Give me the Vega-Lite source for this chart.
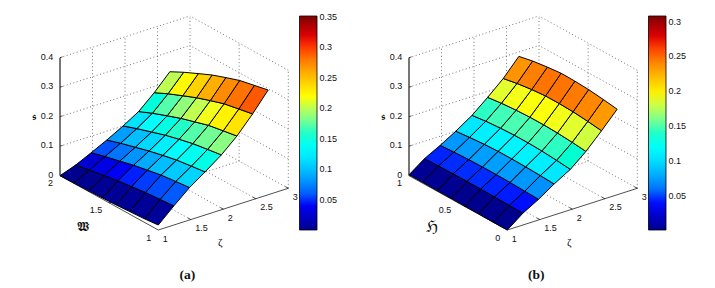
{
"$schema":"https://vega.github.io/schema/vega-lite/v6.json",
"width":715,"height":288,"padding":0,"autosize":{"type":"none"},
"background":"white",
"view":{"stroke":null},
"datasets":{
"grid":[
{"p":["a","b"],"k":"g","z1":1,"v1":1,"s1":0.1,"z2":3,"v2":1,"s2":0.1},
{"p":["a","b"],"k":"g","z1":1,"v1":1,"s1":0.2,"z2":3,"v2":1,"s2":0.2},
{"p":["a","b"],"k":"g","z1":1,"v1":1,"s1":0.3,"z2":3,"v2":1,"s2":0.3},
{"p":["a","b"],"k":"g","z1":1,"v1":1,"s1":0.4,"z2":3,"v2":1,"s2":0.4},
{"p":["a","b"],"k":"g","z1":1,"v1":1,"s1":0,"z2":3,"v2":1,"s2":0},
{"p":["a","b"],"k":"g","z1":1.5,"v1":1,"s1":0,"z2":1.5,"v2":1,"s2":0.4},
{"p":["a","b"],"k":"g","z1":2,"v1":1,"s1":0,"z2":2,"v2":1,"s2":0.4},
{"p":["a","b"],"k":"g","z1":2.5,"v1":1,"s1":0,"z2":2.5,"v2":1,"s2":0.4},
{"p":["a","b"],"k":"g","z1":3,"v1":1,"s1":0,"z2":3,"v2":1,"s2":0.4},
{"p":["a","b"],"k":"g","z1":3,"v1":0,"s1":0.1,"z2":3,"v2":1,"s2":0.1},
{"p":["a","b"],"k":"g","z1":3,"v1":0,"s1":0.2,"z2":3,"v2":1,"s2":0.2},
{"p":["a","b"],"k":"g","z1":3,"v1":0,"s1":0.3,"z2":3,"v2":1,"s2":0.3},
{"p":["a","b"],"k":"g","z1":3,"v1":0,"s1":0.4,"z2":3,"v2":1,"s2":0.4},
{"p":["a","b"],"k":"g","z1":3,"v1":0,"s1":0,"z2":3,"v2":1,"s2":0},
{"p":["a","b"],"k":"g","z1":3,"v1":0.5,"s1":0,"z2":3,"v2":0.5,"s2":0.4},
{"p":["a","b"],"k":"g","z1":3,"v1":0,"s1":0,"z2":3,"v2":0,"s2":0.4},
{"p":["a","b"],"k":"g","z1":1.5,"v1":0,"s1":0,"z2":1.5,"v2":1,"s2":0},
{"p":["a","b"],"k":"g","z1":2,"v1":0,"s1":0,"z2":2,"v2":1,"s2":0},
{"p":["a","b"],"k":"g","z1":2.5,"v1":0,"s1":0,"z2":2.5,"v2":1,"s2":0},
{"p":["a","b"],"k":"g","z1":1,"v1":0.5,"s1":0,"z2":3,"v2":0.5,"s2":0},
{"p":["a","b"],"k":"x","z1":1,"v1":0,"s1":0,"z2":3,"v2":0,"s2":0},
{"p":["a","b"],"k":"x","z1":1,"v1":0,"s1":0,"z2":1,"v2":1,"s2":0},
{"p":["a","b"],"k":"x","z1":1.5,"v1":0,"s1":0,"z2":1.5,"v2":0.03,"s2":0},
{"p":["a","b"],"k":"x","z1":2,"v1":0,"s1":0,"z2":2,"v2":0.03,"s2":0},
{"p":["a","b"],"k":"x","z1":2.5,"v1":0,"s1":0,"z2":2.5,"v2":0.03,"s2":0},
{"p":["a","b"],"k":"x","z1":3,"v1":0,"s1":0,"z2":3,"v2":0.03,"s2":0},
{"p":["a","b"],"k":"x","z1":1,"v1":0.5,"s1":0,"z2":1.05,"v2":0.5,"s2":0},
{"p":["a","b"],"k":"s","z1":1,"v1":1,"s1":0,"z2":1,"v2":1,"s2":0.4},
{"p":["a","b"],"k":"x","z1":1,"v1":1,"s1":0.1,"z2":1.04,"v2":1,"s2":0.1},
{"p":["a","b"],"k":"x","z1":1,"v1":1,"s1":0.2,"z2":1.04,"v2":1,"s2":0.2},
{"p":["a","b"],"k":"x","z1":1,"v1":1,"s1":0.3,"z2":1.04,"v2":1,"s2":0.3},
{"p":["a","b"],"k":"x","z1":1,"v1":1,"s1":0.4,"z2":1.04,"v2":1,"s2":0.4}
],
"labels":[
{"p":["a","b"],"t":"s","zeta":1,"v":1,"s":0,"label":"0"},
{"p":["a","b"],"t":"s","zeta":1,"v":1,"s":0.1,"label":"0.1"},
{"p":["a","b"],"t":"s","zeta":1,"v":1,"s":0.2,"label":"0.2"},
{"p":["a","b"],"t":"s","zeta":1,"v":1,"s":0.3,"label":"0.3"},
{"p":["a","b"],"t":"s","zeta":1,"v":1,"s":0.4,"label":"0.4"},
{"p":["a","b"],"t":"z","zeta":1,"v":0,"s":0,"label":"1"},
{"p":["a","b"],"t":"z","zeta":1.5,"v":0,"s":0,"label":"1.5"},
{"p":["a","b"],"t":"z","zeta":2,"v":0,"s":0,"label":"2"},
{"p":["a","b"],"t":"z","zeta":2.5,"v":0,"s":0,"label":"2.5"},
{"p":["a","b"],"t":"z","zeta":3,"v":0,"s":0,"label":"3"},
{"p":["a"],"t":"w","zeta":1,"v":0,"s":0,"label":"1"},
{"p":["a"],"t":"w","zeta":1,"v":0.5,"s":0,"label":"1.5"},
{"p":["a"],"t":"w","zeta":1,"v":1,"s":0,"label":"2"},
{"p":["b"],"t":"w","zeta":1,"v":0,"s":0,"label":"0"},
{"p":["b"],"t":"w","zeta":1,"v":0.5,"s":0,"label":"0.5"},
{"p":["b"],"t":"w","zeta":1,"v":1,"s":0,"label":"1"},
{"p":["a","b"],"t":"ts","zeta":1,"v":1,"s":0.2,"label":"𝖘"},
{"p":["a","b"],"t":"tz","zeta":2,"v":0,"s":0,"label":"ζ"},
{"p":["a"],"t":"tw","zeta":1,"v":0.5,"s":0,"label":"𝖂"},
{"p":["b"],"t":"tw","zeta":1,"v":0.5,"s":0,"label":"ℌ"},
{"p":["a"],"t":"cap","zeta":2,"v":0,"s":0,"label":"(a)"},
{"p":["b"],"t":"cap","zeta":2,"v":0,"s":0,"label":"(b)"}
],
"cells":[
{"id":"a00","zeta":[1,1.24,1.24,1],"w":[1,1,1.14,1.14],"s":[0.017,0.065,0.061,0.012],"c":0.006},
{"id":"a01","zeta":[1,1.24,1.24,1],"w":[1.14,1.14,1.29,1.29],"s":[0.012,0.061,0.057,0.009],"c":0.005},
{"id":"a02","zeta":[1,1.24,1.24,1],"w":[1.29,1.29,1.43,1.43],"s":[0.009,0.057,0.051,0.006],"c":0.004},
{"id":"a03","zeta":[1,1.24,1.24,1],"w":[1.43,1.43,1.57,1.57],"s":[0.006,0.051,0.045,0.004],"c":0.004},
{"id":"a04","zeta":[1,1.24,1.24,1],"w":[1.57,1.57,1.71,1.71],"s":[0.004,0.045,0.037,0.002],"c":0.003},
{"id":"a05","zeta":[1,1.24,1.24,1],"w":[1.71,1.71,1.86,1.86],"s":[0.002,0.037,0.028,0.001],"c":0.002},
{"id":"a06","zeta":[1,1.24,1.24,1],"w":[1.86,1.86,2,2],"s":[0.001,0.028,0.019,0],"c":0.001},
{"id":"a10","zeta":[1.24,1.48,1.48,1.24],"w":[1,1,1.14,1.14],"s":[0.065,0.11,0.105,0.061],"c":0.06},
{"id":"a11","zeta":[1.24,1.48,1.48,1.24],"w":[1.14,1.14,1.29,1.29],"s":[0.061,0.105,0.099,0.057],"c":0.056},
{"id":"a12","zeta":[1.24,1.48,1.48,1.24],"w":[1.29,1.29,1.43,1.43],"s":[0.057,0.099,0.09,0.051],"c":0.052},
{"id":"a13","zeta":[1.24,1.48,1.48,1.24],"w":[1.43,1.43,1.57,1.57],"s":[0.051,0.09,0.081,0.045],"c":0.047},
{"id":"a14","zeta":[1.24,1.48,1.48,1.24],"w":[1.57,1.57,1.71,1.71],"s":[0.045,0.081,0.069,0.037],"c":0.042},
{"id":"a15","zeta":[1.24,1.48,1.48,1.24],"w":[1.71,1.71,1.86,1.86],"s":[0.037,0.069,0.057,0.028],"c":0.035},
{"id":"a16","zeta":[1.24,1.48,1.48,1.24],"w":[1.86,1.86,2,2],"s":[0.028,0.057,0.044,0.019],"c":0.028},
{"id":"a20","zeta":[1.48,1.72,1.72,1.48],"w":[1,1,1.14,1.14],"s":[0.11,0.146,0.14,0.105],"c":0.11},
{"id":"a21","zeta":[1.48,1.72,1.72,1.48],"w":[1.14,1.14,1.29,1.29],"s":[0.105,0.14,0.133,0.099],"c":0.105},
{"id":"a22","zeta":[1.48,1.72,1.72,1.48],"w":[1.29,1.29,1.43,1.43],"s":[0.099,0.133,0.123,0.09],"c":0.099},
{"id":"a23","zeta":[1.48,1.72,1.72,1.48],"w":[1.43,1.43,1.57,1.57],"s":[0.09,0.123,0.112,0.081],"c":0.09},
{"id":"a24","zeta":[1.48,1.72,1.72,1.48],"w":[1.57,1.57,1.71,1.71],"s":[0.081,0.112,0.099,0.069],"c":0.081},
{"id":"a25","zeta":[1.48,1.72,1.72,1.48],"w":[1.71,1.71,1.86,1.86],"s":[0.069,0.099,0.085,0.057],"c":0.069},
{"id":"a26","zeta":[1.48,1.72,1.72,1.48],"w":[1.86,1.86,2,2],"s":[0.057,0.085,0.07,0.044],"c":0.057},
{"id":"a30","zeta":[1.72,1.97,1.97,1.72],"w":[1,1,1.14,1.14],"s":[0.146,0.186,0.179,0.14],"c":0.146},
{"id":"a31","zeta":[1.72,1.97,1.97,1.72],"w":[1.14,1.14,1.29,1.29],"s":[0.14,0.179,0.171,0.133],"c":0.14},
{"id":"a32","zeta":[1.72,1.97,1.97,1.72],"w":[1.29,1.29,1.43,1.43],"s":[0.133,0.171,0.16,0.123],"c":0.133},
{"id":"a33","zeta":[1.72,1.97,1.97,1.72],"w":[1.43,1.43,1.57,1.57],"s":[0.123,0.16,0.148,0.112],"c":0.123},
{"id":"a34","zeta":[1.72,1.97,1.97,1.72],"w":[1.57,1.57,1.71,1.71],"s":[0.112,0.148,0.133,0.099],"c":0.112},
{"id":"a35","zeta":[1.72,1.97,1.97,1.72],"w":[1.71,1.71,1.86,1.86],"s":[0.099,0.133,0.117,0.085],"c":0.099},
{"id":"a36","zeta":[1.72,1.97,1.97,1.72],"w":[1.86,1.86,2,2],"s":[0.085,0.117,0.1,0.07],"c":0.085},
{"id":"a40","zeta":[1.97,2.21,2.21,1.97],"w":[1,1,1.14,1.14],"s":[0.186,0.233,0.225,0.179],"c":0.186},
{"id":"a41","zeta":[1.97,2.21,2.21,1.97],"w":[1.14,1.14,1.29,1.29],"s":[0.179,0.225,0.216,0.171],"c":0.179},
{"id":"a42","zeta":[1.97,2.21,2.21,1.97],"w":[1.29,1.29,1.43,1.43],"s":[0.171,0.216,0.202,0.16],"c":0.171},
{"id":"a43","zeta":[1.97,2.21,2.21,1.97],"w":[1.43,1.43,1.57,1.57],"s":[0.16,0.202,0.188,0.148],"c":0.16},
{"id":"a44","zeta":[1.97,2.21,2.21,1.97],"w":[1.57,1.57,1.71,1.71],"s":[0.148,0.188,0.171,0.133],"c":0.148},
{"id":"a45","zeta":[1.97,2.21,2.21,1.97],"w":[1.71,1.71,1.86,1.86],"s":[0.133,0.171,0.152,0.117],"c":0.133},
{"id":"a46","zeta":[1.97,2.21,2.21,1.97],"w":[1.86,1.86,2,2],"s":[0.117,0.152,0.132,0.1],"c":0.117},
{"id":"a50","zeta":[2.21,2.45,2.45,2.21],"w":[1,1,1.14,1.14],"s":[0.233,0.291,0.282,0.225],"c":0.233},
{"id":"a51","zeta":[2.21,2.45,2.45,2.21],"w":[1.14,1.14,1.29,1.29],"s":[0.225,0.282,0.272,0.216],"c":0.225},
{"id":"a52","zeta":[2.21,2.45,2.45,2.21],"w":[1.29,1.29,1.43,1.43],"s":[0.216,0.272,0.257,0.202],"c":0.216},
{"id":"a53","zeta":[2.21,2.45,2.45,2.21],"w":[1.43,1.43,1.57,1.57],"s":[0.202,0.257,0.241,0.188],"c":0.202},
{"id":"a54","zeta":[2.21,2.45,2.45,2.21],"w":[1.57,1.57,1.71,1.71],"s":[0.188,0.241,0.222,0.171],"c":0.188},
{"id":"a55","zeta":[2.21,2.45,2.45,2.21],"w":[1.71,1.71,1.86,1.86],"s":[0.171,0.222,0.201,0.152],"c":0.171},
{"id":"a56","zeta":[2.21,2.45,2.45,2.21],"w":[1.86,1.86,2,2],"s":[0.152,0.201,0.179,0.132],"c":0.152},
{"id":"a60","zeta":[2.45,2.69,2.69,2.45],"w":[1,1,1.14,1.14],"s":[0.291,0.355,0.345,0.282],"c":0.291},
{"id":"a61","zeta":[2.45,2.69,2.69,2.45],"w":[1.14,1.14,1.29,1.29],"s":[0.282,0.345,0.334,0.272],"c":0.282},
{"id":"a62","zeta":[2.45,2.69,2.69,2.45],"w":[1.29,1.29,1.43,1.43],"s":[0.272,0.334,0.318,0.257],"c":0.272},
{"id":"a63","zeta":[2.45,2.69,2.69,2.45],"w":[1.43,1.43,1.57,1.57],"s":[0.257,0.318,0.301,0.241],"c":0.257},
{"id":"a64","zeta":[2.45,2.69,2.69,2.45],"w":[1.57,1.57,1.71,1.71],"s":[0.241,0.301,0.28,0.222],"c":0.241},
{"id":"a65","zeta":[2.45,2.69,2.69,2.45],"w":[1.71,1.71,1.86,1.86],"s":[0.222,0.28,0.257,0.201],"c":0.222},
{"id":"a66","zeta":[2.45,2.69,2.69,2.45],"w":[1.86,1.86,2,2],"s":[0.201,0.257,0.233,0.179],"c":0.201}
],
"cellsb":[
{"id":"b00","zeta":[1,1.24,1.24,1],"w":[0,0,0.14,0.14],"s":[0,0.04,0.041,0],"c":0.001},
{"id":"b01","zeta":[1,1.24,1.24,1],"w":[0.14,0.14,0.29,0.29],"s":[0,0.041,0.042,0.001],"c":0.001},
{"id":"b02","zeta":[1,1.24,1.24,1],"w":[0.29,0.29,0.43,0.43],"s":[0.001,0.042,0.043,0.001],"c":0.001},
{"id":"b03","zeta":[1,1.24,1.24,1],"w":[0.43,0.43,0.57,0.57],"s":[0.001,0.043,0.043,0.002],"c":0.001},
{"id":"b04","zeta":[1,1.24,1.24,1],"w":[0.57,0.57,0.71,0.71],"s":[0.002,0.043,0.043,0.002],"c":0.002},
{"id":"b05","zeta":[1,1.24,1.24,1],"w":[0.71,0.71,0.86,0.86],"s":[0.002,0.043,0.042,0.003],"c":0.002},
{"id":"b06","zeta":[1,1.24,1.24,1],"w":[0.86,0.86,1,1],"s":[0.003,0.042,0.041,0.003],"c":0.003},
{"id":"b10","zeta":[1.24,1.48,1.48,1.24],"w":[0,0,0.14,0.14],"s":[0.04,0.07,0.072,0.041],"c":0.04},
{"id":"b11","zeta":[1.24,1.48,1.48,1.24],"w":[0.14,0.14,0.29,0.29],"s":[0.041,0.072,0.074,0.042],"c":0.041},
{"id":"b12","zeta":[1.24,1.48,1.48,1.24],"w":[0.29,0.29,0.43,0.43],"s":[0.042,0.074,0.075,0.043],"c":0.042},
{"id":"b13","zeta":[1.24,1.48,1.48,1.24],"w":[0.43,0.43,0.57,0.57],"s":[0.043,0.075,0.075,0.043],"c":0.043},
{"id":"b14","zeta":[1.24,1.48,1.48,1.24],"w":[0.57,0.57,0.71,0.71],"s":[0.043,0.075,0.074,0.043],"c":0.043},
{"id":"b15","zeta":[1.24,1.48,1.48,1.24],"w":[0.71,0.71,0.86,0.86],"s":[0.043,0.074,0.072,0.042],"c":0.043},
{"id":"b16","zeta":[1.24,1.48,1.48,1.24],"w":[0.86,0.86,1,1],"s":[0.042,0.072,0.069,0.041],"c":0.042},
{"id":"b20","zeta":[1.48,1.72,1.72,1.48],"w":[0,0,0.14,0.14],"s":[0.07,0.105,0.108,0.072],"c":0.07},
{"id":"b21","zeta":[1.48,1.72,1.72,1.48],"w":[0.14,0.14,0.29,0.29],"s":[0.072,0.108,0.11,0.074],"c":0.072},
{"id":"b22","zeta":[1.48,1.72,1.72,1.48],"w":[0.29,0.29,0.43,0.43],"s":[0.074,0.11,0.111,0.075],"c":0.074},
{"id":"b23","zeta":[1.48,1.72,1.72,1.48],"w":[0.43,0.43,0.57,0.57],"s":[0.075,0.111,0.111,0.075],"c":0.075},
{"id":"b24","zeta":[1.48,1.72,1.72,1.48],"w":[0.57,0.57,0.71,0.71],"s":[0.075,0.111,0.109,0.074],"c":0.075},
{"id":"b25","zeta":[1.48,1.72,1.72,1.48],"w":[0.71,0.71,0.86,0.86],"s":[0.074,0.109,0.105,0.072],"c":0.074},
{"id":"b26","zeta":[1.48,1.72,1.72,1.48],"w":[0.86,0.86,1,1],"s":[0.072,0.105,0.1,0.069],"c":0.072},
{"id":"b30","zeta":[1.72,1.97,1.97,1.72],"w":[0,0,0.14,0.14],"s":[0.105,0.137,0.142,0.108],"c":0.105},
{"id":"b31","zeta":[1.72,1.97,1.97,1.72],"w":[0.14,0.14,0.29,0.29],"s":[0.108,0.142,0.146,0.11],"c":0.108},
{"id":"b32","zeta":[1.72,1.97,1.97,1.72],"w":[0.29,0.29,0.43,0.43],"s":[0.11,0.146,0.148,0.111],"c":0.11},
{"id":"b33","zeta":[1.72,1.97,1.97,1.72],"w":[0.43,0.43,0.57,0.57],"s":[0.111,0.148,0.148,0.111],"c":0.111},
{"id":"b34","zeta":[1.72,1.97,1.97,1.72],"w":[0.57,0.57,0.71,0.71],"s":[0.111,0.148,0.146,0.109],"c":0.111},
{"id":"b35","zeta":[1.72,1.97,1.97,1.72],"w":[0.71,0.71,0.86,0.86],"s":[0.109,0.146,0.142,0.105],"c":0.109},
{"id":"b36","zeta":[1.72,1.97,1.97,1.72],"w":[0.86,0.86,1,1],"s":[0.105,0.142,0.136,0.1],"c":0.105},
{"id":"b40","zeta":[1.97,2.21,2.21,1.97],"w":[0,0,0.14,0.14],"s":[0.137,0.181,0.186,0.142],"c":0.137},
{"id":"b41","zeta":[1.97,2.21,2.21,1.97],"w":[0.14,0.14,0.29,0.29],"s":[0.142,0.186,0.19,0.146],"c":0.142},
{"id":"b42","zeta":[1.97,2.21,2.21,1.97],"w":[0.29,0.29,0.43,0.43],"s":[0.146,0.19,0.192,0.148],"c":0.146},
{"id":"b43","zeta":[1.97,2.21,2.21,1.97],"w":[0.43,0.43,0.57,0.57],"s":[0.148,0.192,0.192,0.148],"c":0.148},
{"id":"b44","zeta":[1.97,2.21,2.21,1.97],"w":[0.57,0.57,0.71,0.71],"s":[0.148,0.192,0.19,0.146],"c":0.148},
{"id":"b45","zeta":[1.97,2.21,2.21,1.97],"w":[0.71,0.71,0.86,0.86],"s":[0.146,0.19,0.186,0.142],"c":0.146},
{"id":"b46","zeta":[1.97,2.21,2.21,1.97],"w":[0.86,0.86,1,1],"s":[0.142,0.186,0.18,0.136],"c":0.142},
{"id":"b50","zeta":[2.21,2.45,2.45,2.21],"w":[0,0,0.14,0.14],"s":[0.181,0.234,0.24,0.186],"c":0.181},
{"id":"b51","zeta":[2.21,2.45,2.45,2.21],"w":[0.14,0.14,0.29,0.29],"s":[0.186,0.24,0.245,0.19],"c":0.186},
{"id":"b52","zeta":[2.21,2.45,2.45,2.21],"w":[0.29,0.29,0.43,0.43],"s":[0.19,0.245,0.247,0.192],"c":0.19},
{"id":"b53","zeta":[2.21,2.45,2.45,2.21],"w":[0.43,0.43,0.57,0.57],"s":[0.192,0.247,0.247,0.192],"c":0.192},
{"id":"b54","zeta":[2.21,2.45,2.45,2.21],"w":[0.57,0.57,0.71,0.71],"s":[0.192,0.247,0.243,0.19],"c":0.192},
{"id":"b55","zeta":[2.21,2.45,2.45,2.21],"w":[0.71,0.71,0.86,0.86],"s":[0.19,0.243,0.236,0.186],"c":0.19},
{"id":"b56","zeta":[2.21,2.45,2.45,2.21],"w":[0.86,0.86,1,1],"s":[0.186,0.236,0.227,0.18],"c":0.186},
{"id":"b60","zeta":[2.45,2.69,2.69,2.45],"w":[0,0,0.14,0.14],"s":[0.234,0.29,0.297,0.24],"c":0.234},
{"id":"b61","zeta":[2.45,2.69,2.69,2.45],"w":[0.14,0.14,0.29,0.29],"s":[0.24,0.297,0.303,0.245],"c":0.24},
{"id":"b62","zeta":[2.45,2.69,2.69,2.45],"w":[0.29,0.29,0.43,0.43],"s":[0.245,0.303,0.306,0.247],"c":0.245},
{"id":"b63","zeta":[2.45,2.69,2.69,2.45],"w":[0.43,0.43,0.57,0.57],"s":[0.247,0.306,0.307,0.247],"c":0.247},
{"id":"b64","zeta":[2.45,2.69,2.69,2.45],"w":[0.57,0.57,0.71,0.71],"s":[0.247,0.307,0.302,0.243],"c":0.247},
{"id":"b65","zeta":[2.45,2.69,2.69,2.45],"w":[0.71,0.71,0.86,0.86],"s":[0.243,0.302,0.295,0.236],"c":0.243},
{"id":"b66","zeta":[2.45,2.69,2.69,2.45],"w":[0.86,0.86,1,1],"s":[0.236,0.295,0.285,0.227],"c":0.236}
]
},
"layer":[
{"data":{"name":"grid"},
 "transform":[{"flatten":["p"]},{"filter":"datum.k=='g'"},
  {"calculate":"(datum.p=='b'?349:0)+158.3+(datum.z1-1)*65-datum.v1*98.3","as":"x1"},
  {"calculate":"230-(datum.z1-1)*20.85-datum.v1*54.3-datum.s1*295","as":"y1"},
  {"calculate":"(datum.p=='b'?349:0)+158.3+(datum.z2-1)*65-datum.v2*98.3","as":"x2"},
  {"calculate":"230-(datum.z2-1)*20.85-datum.v2*54.3-datum.s2*295","as":"y2"}],
 "mark":{"type":"rule","color":"#666666","strokeWidth":0.9,"strokeDash":[1,2.5]},
 "encoding":{"x":{"field":"x1","type":"quantitative","scale":{"domain":[0,715],"nice":false,"zero":false},"axis":null},
  "y":{"field":"y1","type":"quantitative","scale":{"domain":[288,0],"nice":false,"zero":false},"axis":null},
  "x2":{"field":"x2"},"y2":{"field":"y2"}}},
{"data":{"name":"grid"},
 "transform":[{"flatten":["p"]},{"filter":"datum.k!='g'"},
  {"calculate":"(datum.p=='b'?349:0)+158.3+(datum.z1-1)*65-datum.v1*98.3","as":"x1"},
  {"calculate":"230-(datum.z1-1)*20.85-datum.v1*54.3-datum.s1*295","as":"y1"},
  {"calculate":"(datum.p=='b'?349:0)+158.3+(datum.z2-1)*65-datum.v2*98.3","as":"x2"},
  {"calculate":"230-(datum.z2-1)*20.85-datum.v2*54.3-datum.s2*295","as":"y2"}],
 "mark":{"type":"rule"},
 "encoding":{"x":{"field":"x1","type":"quantitative","axis":null},
  "y":{"field":"y1","type":"quantitative","axis":null},
  "x2":{"field":"x2"},"y2":{"field":"y2"},
  "color":{"condition":{"test":"datum.k=='s'","value":"#777777"},"value":"#222222"},
  "strokeWidth":{"condition":{"test":"datum.k=='s'","value":2},"value":0.8}}},
{"data":{"name":"cells"},
 "transform":[{"flatten":["zeta","w","s"]},{"window":[{"op":"row_number","as":"n"}],"groupby":["id"]},
  {"calculate":"158.3+(datum.zeta-1)*65-(datum.w-1)*98.3","as":"px"},
  {"calculate":"230-(datum.zeta-1)*20.85-(datum.w-1)*54.3-datum.s*295","as":"py"}],
 "mark":{"type":"line","interpolate":"linear-closed","stroke":"#000000","strokeWidth":1},
 "encoding":{"x":{"field":"px","type":"quantitative","axis":null},"y":{"field":"py","type":"quantitative","axis":null},
  "detail":{"field":"id"},"order":{"field":"n","type":"quantitative"},
  "fill":{"field":"c","type":"quantitative","scale":{"domain":[0.001,0.0448,0.1323,0.2198,0.3073,0.351],"range":["#00008f","#0000ff","#00ffff","#ffff00","#ff0000","#800000"]},
   "legend":{"title":null,"orient":"none","legendX":299.5,"legendY":16,"gradientLength":214,"gradientThickness":17.5,"values":[0.05,0.1,0.15,0.2,0.25,0.3,0.35],"format":".3~g","labelFontSize":9,"labelFont":"Liberation Sans","labelColor":"#111111","gradientStrokeColor":"#000000","gradientStrokeWidth":0.8,"labelOverlap":false,"labelOffset":2.5}}}},
{"data":{"name":"cellsb"},
 "transform":[{"flatten":["zeta","w","s"]},{"window":[{"op":"row_number","as":"n"}],"groupby":["id"]},
  {"calculate":"507.3+(datum.zeta-1)*65-datum.w*98.3","as":"px"},
  {"calculate":"230-(datum.zeta-1)*20.85-datum.w*54.3-datum.s*295","as":"py"}],
 "mark":{"type":"line","interpolate":"linear-closed","stroke":"#000000","strokeWidth":1},
 "encoding":{"x":{"field":"px","type":"quantitative","axis":null},"y":{"field":"py","type":"quantitative","axis":null},
  "detail":{"field":"id"},"order":{"field":"n","type":"quantitative"},
  "fill":{"field":"c","type":"quantitative","scale":{"domain":[0.001,0.0394,0.1161,0.1929,0.2696,0.308],"range":["#00008f","#0000ff","#00ffff","#ffff00","#ff0000","#800000"]},
   "legend":{"title":null,"orient":"none","legendX":648.5,"legendY":16,"gradientLength":214,"gradientThickness":17.5,"values":[0.05,0.1,0.15,0.2,0.25,0.3],"format":".3~g","labelFontSize":9,"labelFont":"Liberation Sans","labelColor":"#111111","gradientStrokeColor":"#000000","gradientStrokeWidth":0.8,"labelOverlap":false,"labelOffset":2.5}}}},
{"data":{"name":"labels"},
 "transform":[{"flatten":["p"]},{"filter":"datum.t=='s'"},
  {"calculate":"(datum.p=='b'?349:0)+158.3+(datum.zeta-1)*65-datum.v*98.3","as":"px"},
  {"calculate":"230-(datum.zeta-1)*20.85-datum.v*54.3-datum.s*295","as":"py"}],
 "mark":{"type":"text","align":"right","baseline":"middle","dx":-6.7,"dy":-1,"font":"Liberation Sans","fontSize":9,"color":"#111111"},
 "encoding":{"x":{"field":"px","type":"quantitative","axis":null},"y":{"field":"py","type":"quantitative","axis":null},"text":{"field":"label"}}},
{"data":{"name":"labels"},
 "transform":[{"flatten":["p"]},{"filter":"datum.t=='z'"},
  {"calculate":"(datum.p=='b'?349:0)+158.3+(datum.zeta-1)*65-datum.v*98.3","as":"px"},
  {"calculate":"230-(datum.zeta-1)*20.85-datum.v*54.3-datum.s*295","as":"py"}],
 "mark":{"type":"text","align":"left","baseline":"middle","dx":4.5,"dy":8.6,"font":"Liberation Sans","fontSize":9,"color":"#111111"},
 "encoding":{"x":{"field":"px","type":"quantitative","axis":null},"y":{"field":"py","type":"quantitative","axis":null},"text":{"field":"label"}}},
{"data":{"name":"labels"},
 "transform":[{"flatten":["p"]},{"filter":"datum.t=='w'"},
  {"calculate":"(datum.p=='b'?349:0)+158.3+(datum.zeta-1)*65-datum.v*98.3","as":"px"},
  {"calculate":"230-(datum.zeta-1)*20.85-datum.v*54.3-datum.s*295","as":"py"}],
 "mark":{"type":"text","align":"right","baseline":"middle","dx":-7,"dy":7.5,"font":"Liberation Sans","fontSize":9,"color":"#111111"},
 "encoding":{"x":{"field":"px","type":"quantitative","axis":null},"y":{"field":"py","type":"quantitative","axis":null},"text":{"field":"label"}}},
{"data":{"name":"labels"},
 "transform":[{"flatten":["p"]},{"filter":"datum.t=='ts'"},
  {"calculate":"(datum.p=='b'?349:0)+158.3+(datum.zeta-1)*65-datum.v*98.3","as":"px"},
  {"calculate":"230-(datum.zeta-1)*20.85-datum.v*54.3-datum.s*295","as":"py"}],
 "mark":{"type":"text","align":"center","baseline":"middle","dx":-26,"dy":0,"font":"DejaVu Sans","fontSize":10,"color":"#111111"},
 "encoding":{"x":{"field":"px","type":"quantitative","axis":null},"y":{"field":"py","type":"quantitative","axis":null},"text":{"field":"label"}}},
{"data":{"name":"labels"},
 "transform":[{"flatten":["p"]},{"filter":"datum.t=='tz'"},
  {"calculate":"(datum.p=='b'?349:0)+158.3+(datum.zeta-1)*65-datum.v*98.3","as":"px"},
  {"calculate":"230-(datum.zeta-1)*20.85-datum.v*54.3-datum.s*295","as":"py"}],
 "mark":{"type":"text","align":"center","baseline":"middle","dx":-3,"dy":34,"font":"Liberation Serif","fontSize":11,"color":"#111111"},
 "encoding":{"x":{"field":"px","type":"quantitative","axis":null},"y":{"field":"py","type":"quantitative","axis":null},"text":{"field":"label"}}},
{"data":{"name":"labels"},
 "transform":[{"flatten":["p"]},{"filter":"datum.t=='tw'"},
  {"calculate":"(datum.p=='b'?349:0)+158.3+(datum.zeta-1)*65-datum.v*98.3","as":"px"},
  {"calculate":"230-(datum.zeta-1)*20.85-datum.v*54.3-datum.s*295","as":"py"}],
 "mark":{"type":"text","align":"center","baseline":"middle","dx":-26,"dy":24.5,"font":"DejaVu Sans","color":"#111111"},
 "encoding":{"x":{"field":"px","type":"quantitative","axis":null},"y":{"field":"py","type":"quantitative","axis":null},"text":{"field":"label"},
  "size":{"condition":{"test":"datum.p=='b'","value":16},"value":12.5}}},
{"data":{"name":"labels"},
 "transform":[{"flatten":["p"]},{"filter":"datum.t=='cap'"},
  {"calculate":"(datum.p=='b'?349:0)+158.3+(datum.zeta-1)*65-datum.v*98.3","as":"px"},
  {"calculate":"230-(datum.zeta-1)*20.85-datum.v*54.3-datum.s*295","as":"py"}],
 "mark":{"type":"text","align":"center","baseline":"middle","dx":-36,"dy":66,"font":"Liberation Serif","fontSize":13.5,"fontWeight":"bold","color":"#111111"},
 "encoding":{"x":{"field":"px","type":"quantitative","axis":null},"y":{"field":"py","type":"quantitative","axis":null},"text":{"field":"label"}}}
],
"resolve":{"scale":{"fill":"independent"}}
}
